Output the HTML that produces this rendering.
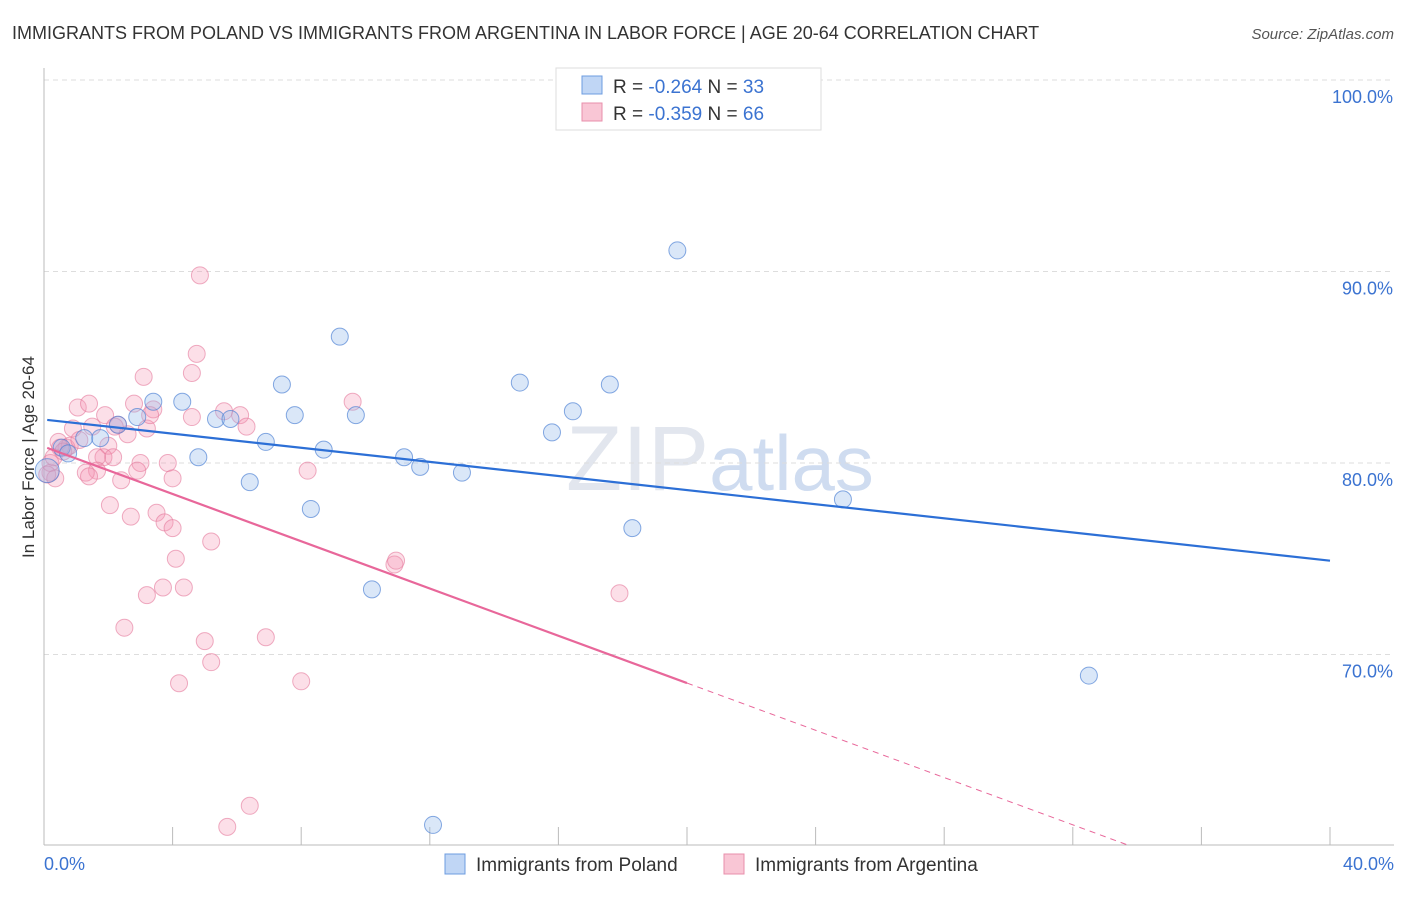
<!DOCTYPE html>
<html><head><meta charset="utf-8">
<style>
body{margin:0;background:#fff;font-family:"Liberation Sans",sans-serif;}
svg text{font-family:"Liberation Sans",sans-serif;}
</style></head>
<body>
<svg id="chart" width="1406" height="892" viewBox="0 0 1406 892" xmlns="http://www.w3.org/2000/svg">
<text x="12" y="39" font-size="18" fill="#333">IMMIGRANTS FROM POLAND VS IMMIGRANTS FROM ARGENTINA IN LABOR FORCE | AGE 20-64 CORRELATION CHART</text>
<text x="1394" y="39" font-size="15" fill="#555" text-anchor="end" font-style="italic">Source: ZipAtlas.com</text>
<text x="720" y="490" font-size="92" fill="#e2e6ee" text-anchor="middle" font-family="Liberation Serif">ZIP<tspan font-family="Liberation Sans" font-size="78" fill="#cfdcf0">atlas</tspan></text>
<g id="grid"></g>
<g id="axes"></g>
<g id="pts"></g>
<g id="lines"></g>
<text transform="translate(34,457) rotate(-90)" font-size="17" fill="#333" text-anchor="middle">In Labor Force | Age 20-64</text>
<text x="44" y="870" font-size="18" fill="#3b73d1">0.0%</text>
<text x="1394" y="870" font-size="18" fill="#3b73d1" text-anchor="end">40.0%</text>
<g>
<rect x="556" y="68" width="265" height="62" fill="#fff" stroke="#ddd"/>
<rect x="582" y="76" width="20" height="18" fill="#c0d6f5" stroke="#6d9ce0"/>
<rect x="582" y="103" width="20" height="18" fill="#f9c6d5" stroke="#e88fab"/>
<text x="613" y="93" font-size="19" fill="#333">R = <tspan fill="#3b73d1">-0.264</tspan>   N = <tspan fill="#3b73d1">33</tspan></text>
<text x="613" y="120" font-size="19" fill="#333">R = <tspan fill="#3b73d1">-0.359</tspan>   N = <tspan fill="#3b73d1">66</tspan></text>
</g>
<g>
<rect x="445" y="854" width="20" height="20" fill="#c0d6f5" stroke="#6d9ce0"/>
<text x="476" y="871" font-size="19" fill="#333">Immigrants from Poland</text>
<rect x="724" y="854" width="20" height="20" fill="#f9c6d5" stroke="#e88fab"/>
<text x="755" y="871" font-size="19" fill="#333">Immigrants from Argentina</text>
</g>
</svg>
<script>
const yTicks=[70,80,90,100];
const yTickLabels=["70.0%","80.0%","90.0%","100.0%"];
const xTicks=[0,4,8,12,16,20,24,28,32,36,40];
const polandX=[0.1,0.55,0.75,1.25,1.75,2.3,2.9,3.4,4.3,4.8,5.35,5.8,6.4,6.9,7.4,7.8,8.3,8.7,9.2,9.7,10.2,11.2,11.7,12.1,13.0,14.8,15.8,16.45,17.6,18.3,19.7,24.85,32.5];
const polandY=[79.6,80.8,80.5,81.3,81.3,82.0,82.4,83.2,83.2,80.3,82.3,82.3,79.0,81.1,84.1,82.5,77.6,80.7,86.6,82.5,73.4,80.3,79.8,61.1,79.5,84.2,81.6,82.7,84.1,76.6,91.1,78.1,68.9];
const argX=[4.75,3.1,4.6,9.6,1.05,1.4,1.9,2.8,3.4,4.6,5.6,6.1,6.3,2.3,2.6,3.2,0.9,0.45,0.7,2.0,1.85,2.15,1.65,3.0,3.85,2.9,1.65,1.3,1.4,2.4,4.0,8.2,0.2,2.05,2.7,3.5,3.75,4.0,5.2,4.1,3.7,4.35,3.2,2.5,5.0,6.9,5.2,4.2,8.0,4.85,10.9,10.95,17.9,6.4,5.7,0.8,0.5,0.2,0.1,1.1,0.3,0.6,1.5,2.2,3.3,0.35];
const argY=[85.7,84.5,84.7,83.2,82.9,83.1,82.5,83.1,82.8,82.4,82.7,82.5,81.9,82.0,81.5,81.8,81.8,81.1,80.8,80.9,80.3,80.3,80.3,80.0,80.0,79.6,79.6,79.5,79.3,79.1,79.2,79.6,79.5,77.8,77.2,77.4,76.9,76.6,75.9,75.0,73.5,73.5,73.1,71.4,70.7,70.9,69.6,68.5,68.6,89.8,74.7,74.9,73.2,62.1,61.0,80.9,80.8,80.0,79.4,81.2,80.3,80.6,81.9,81.9,82.5,79.2];
const polandTrend=[82.25,74.9];
const argTrend=[80.85,-0.617];
const NS="http://www.w3.org/2000/svg";
const X=v=>44+v/40*1286;
const Y=v=>80+(100-v)*19.15;
function mk(tag,attrs,parent){const e=document.createElementNS(NS,tag);for(const k in attrs)e.setAttribute(k,attrs[k]);document.getElementById(parent).appendChild(e);return e;}
yTicks.forEach((t,i)=>{
 const g=mk('line',{x1:44,x2:1394,y1:Y(t),y2:Y(t),stroke:'#ddd','stroke-dasharray':'5,4'},'grid');
 
 
 const tx=mk('text',{x:1393,y:Y(t)+23,'font-size':18,fill:'#3b73d1','text-anchor':'end'},'grid');
 tx.textContent=yTickLabels[i];
 
 
});
const ya=mk('line',{x1:44,x2:44,y1:68,y2:845,stroke:'#bbb'},'axes');


const xa=mk('line',{x1:44,x2:1394,y1:845,y2:845,stroke:'#bbb'},'axes');


xTicks.forEach(t=>{
 const l=mk('line',{x1:X(t),x2:X(t),y1:827,y2:845,stroke:'#bbb'},'axes');
 
 
});
argX.forEach((x,i)=>{
 const c=mk('circle',{cx:X(x),cy:Y(argY[i]),r:8.5,fill:'rgba(244,150,178,0.3)',stroke:'rgba(228,120,155,0.6)','stroke-width':1},'pts');
 
 
});
polandX.forEach((x,i)=>{
 const c=mk('circle',{cx:X(x),cy:Y(polandY[i]),r:i===0?12:8.5,fill:'rgba(150,185,235,0.35)',stroke:'rgba(70,125,210,0.65)','stroke-width':1},'pts');
 
 
});
const bl=mk('line',{x1:X(0.1),y1:Y(polandTrend[0]),x2:X(40),y2:Y(polandTrend[1]),stroke:'#2c6fd6','stroke-width':2.2},'lines');


const ay=x=>argTrend[0]+argTrend[1]*x;
const pl=mk('line',{x1:X(0.1),y1:Y(ay(0.1)),x2:X(20),y2:Y(ay(20)),stroke:'#e8679a','stroke-width':2.2},'lines');


const xe=(60-argTrend[0])/argTrend[1];
const pd=mk('line',{x1:X(20),y1:Y(ay(20)),x2:X(xe),y2:Y(60),stroke:'#e8679a','stroke-width':1,'stroke-dasharray':'6,5'},'lines');


</script>
</body></html>
